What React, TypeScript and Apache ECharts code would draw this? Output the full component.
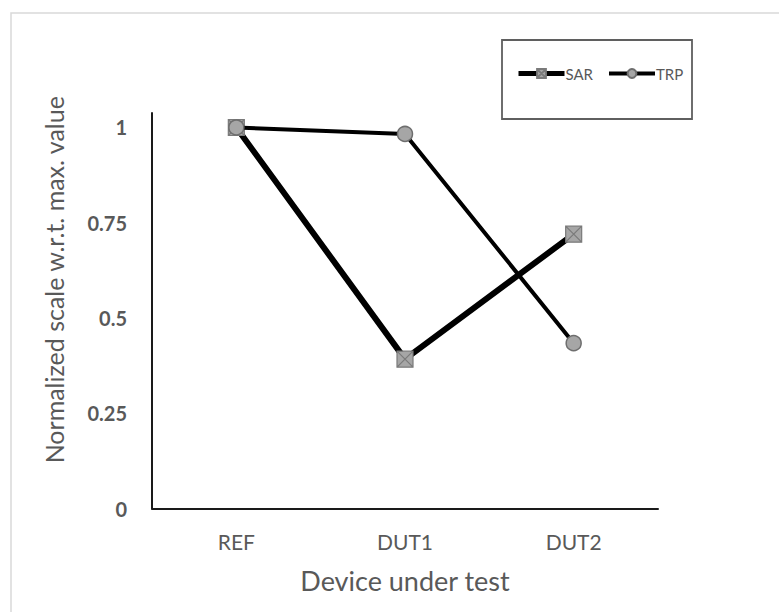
import React, { useEffect, useRef } from "react";
import * as echarts from "echarts";

const categories = ["REF", "DUT1", "DUT2"];
const sarValues = [1.0, 0.392, 0.72];
const trpValues = [1.0, 0.983, 0.434];
const yTicks = [0, 0.25, 0.5, 0.75, 1];
const seriesNames = ["SAR", "TRP"];
const xTitle = "Device under test";
const yTitle = "Normalized scale w.r.t. max. value";

const FONT = "Lato";
const TXT = "#595959";
const SAR_SYMBOL = "path://M0,0L10,0L10,10L0,10Z M0,0L10,10 M10,0L0,10";

export default function App() {
  const ref = useRef<HTMLDivElement>(null);
  useEffect(() => {
    if (!ref.current) return;
    const chart = echarts.init(ref.current, null, { renderer: "svg" });
    chart.setOption({
      animation: false,
      backgroundColor: "#ffffff",
      textStyle: { fontFamily: FONT },
      grid: { left: 152, right: 779 - 658, top: 113, bottom: 103.5, containLabel: false },
      legend: {
        left: 511,
        top: 61,
        data: [
          { name: seriesNames[0], lineStyle: { width: 5, color: "#000" } },
          { name: seriesNames[1], lineStyle: { width: 4, color: "#000" } },
        ],
        itemWidth: 46,
        itemHeight: 11,
        itemGap: 14,
        textStyle: { color: TXT, fontSize: 15, fontFamily: FONT, padding: [0, 0, 0, -4] },
      },
      xAxis: {
        type: "category",
        data: categories,
        boundaryGap: true,
        axisLine: { lineStyle: { color: "#1a1a1a", width: 2 } },
        axisTick: { show: false },
        axisLabel: { color: TXT, fontSize: 21, margin: 22, fontFamily: FONT },
        name: xTitle,
        nameLocation: "middle",
        nameGap: 58,
        nameTextStyle: { color: TXT, fontSize: 27, fontFamily: FONT },
      },
      yAxis: {
        type: "value",
        min: 0,
        max: 1.038,
        interval: 0.25,
        splitLine: { show: false },
        axisLine: { show: true, lineStyle: { color: "#1a1a1a", width: 2 } },
        axisTick: { show: false },
        axisLabel: {
          color: TXT,
          fontSize: 20,
          fontWeight: "bold",
          margin: 25,
          fontFamily: FONT,
          formatter: (v: number) => {
            const t = yTicks.find((k) => Math.abs(k - v) < 1e-6);
            return t === undefined ? "" : String(t);
          },
        },
        name: yTitle,
        nameLocation: "middle",
        nameGap: 86,
        nameTextStyle: { color: TXT, fontSize: 25, fontFamily: FONT, padding: [0, 0, 0, 62] },
      },
      series: [
        {
          name: seriesNames[0],
          type: "line",
          data: sarValues,
          symbol: SAR_SYMBOL,
          symbolSize: 16,
          lineStyle: { color: "#000000", width: 6 },
          itemStyle: { color: "#a6a6a6", borderColor: "#7a7a7a", borderWidth: 1.2 },
          z: 3,
        },
        {
          name: seriesNames[1],
          type: "line",
          data: trpValues,
          symbol: "circle",
          symbolSize: 15,
          lineStyle: { color: "#000000", width: 4 },
          itemStyle: { color: "#a6a6a6", borderColor: "#6e6e6e", borderWidth: 1.5 },
          z: 4,
        },
      ],
      graphic: [
        {
          type: "rect",
          shape: { x: 11, y: 13, width: 900, height: 800 },
          style: { fill: "none", stroke: "#d9d9d9", lineWidth: 1.5 },
          silent: true,
          z: -10,
        },
        {
          type: "rect",
          shape: { x: 502, y: 40, width: 190, height: 79 },
          style: { fill: "none", stroke: "#5f5f5f", lineWidth: 1.8 },
          silent: true,
        },
      ],
    });
    return () => chart.dispose();
  }, []);
  return (
    <div
      ref={ref}
      style={{ position: "fixed", left: 0, top: 0, width: 779, height: 612 }}
    />
  );
}
